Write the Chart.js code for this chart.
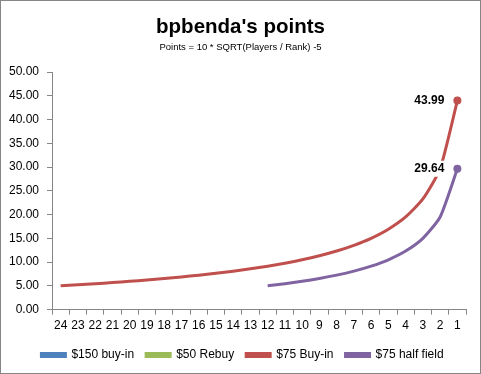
<!DOCTYPE html>
<html lang="en">
<head>
  <meta charset="UTF-8">
  <title>bpbenda's points</title>
  <script src="https://cdn.jsdelivr.net/npm/chart.js"></script>
  <style>
    body { margin: 0; background: #fff; }
    #wrap { width: 479px; height: 372px; border: 1px solid #868686; }
  </style>
  <script>
    // Data
    var ranks = ['24', '23', '22', '21', '20', '19', '18', '17', '16', '15', '14', '13',
                 '12', '11', '10', '9', '8', '7', '6', '5', '4', '3', '2', '1'];
    var buyIn150 = [];
    var rebuy50 = [];
    var buyIn75 = [5.00, 5.22, 5.44, 5.69, 5.95, 6.24, 6.55, 6.88, 7.25, 7.65, 8.09, 8.59,
                   9.14, 9.77, 10.49, 11.33, 12.32, 13.52, 15.00, 16.91, 19.49, 23.28, 29.64, 43.99];
    var halfField75 = [null, null, null, null, null, null, null, null, null, null, null, null,
                       5.00, 5.44, 5.95, 6.55, 7.25, 8.09, 9.14, 10.49, 12.32, 15.00, 19.49, 29.64];

    var font = 'Liberation Sans, Arial, sans-serif';

    function lastRadius(arr) {
      var r = [];
      for (var i = 0; i < arr.length; i++) r.push(i == arr.length - 1 ? 4 : 0);
      return r;
    }

    // label on the last point of the two drawn series
    var endLabels = {
      id: 'endLabels',
      afterDatasetsDraw: function(chart) {
        var ctx = chart.ctx;
        ctx.save();
        ctx.font = 'bold 12px ' + font;
        ctx.textAlign = 'right';
        ctx.textBaseline = 'middle';
        [2, 3].forEach(function(di) {
          var ds = chart.data.datasets[di];
          var meta = chart.getDatasetMeta(di);
          var i = ds.data.length - 1;
          var pt = meta.data[i];
          var txt = ds.data[i].toFixed(2);
          var w = ctx.measureText(txt).width;
          var x = pt.x - 13;
          ctx.fillStyle = '#fff';
          ctx.fillRect(x - w - 2, pt.y - 8, w + 4, 16);
          ctx.fillStyle = '#000';
          ctx.fillText(txt, x, pt.y);
        });
        ctx.restore();
      }
    };

    // center title, subtitle and legend on the whole canvas, not the padded area
    var centerBoxes = {
      id: 'centerBoxes',
      afterLayout: function(chart) {
        chart.boxes.forEach(function(b) {
          if (b.position == 'top' || b.position == 'bottom') {
            if (!b.axis) {
              var d = b.isHorizontal && b.options && b.options.labels ? 9 : 7;
              b.left += d;
              b.right += d;
            }
          }
        });
      }
    };

    document.addEventListener("DOMContentLoaded", function() {
      var ctx = document.getElementById('chart').getContext('2d');

      var chart = new Chart(ctx, {
        type: 'line',
        data: {
          labels: ranks,
          datasets: [
            { label: '$150 buy-in', data: buyIn150, borderColor: '#4F81BD', backgroundColor: '#4F81BD' },
            { label: '$50 Rebuy', data: rebuy50, borderColor: '#9BBB59', backgroundColor: '#9BBB59' },
            { label: '$75 Buy-in', data: buyIn75, borderColor: '#C0504D', backgroundColor: '#C0504D',
              pointRadius: lastRadius(buyIn75) },
            { label: '$75 half field', data: halfField75, borderColor: '#8064A2', backgroundColor: '#8064A2',
              pointRadius: lastRadius(halfField75) }
          ]
        },
        options: {
          responsive: false,
          animation: false,
          devicePixelRatio: 1,
          layout: { padding: { left: 0, right: 14, top: 4, bottom: 2 } },
          elements: {
            line: { borderWidth: 3, tension: 0.2 },
            point: { radius: 0, hoverRadius: 0, borderWidth: 0 }
          },
          plugins: {
            title: {
              display: true,
              text: "bpbenda's points",
              color: '#000',
              font: { family: font, size: 20.5, weight: 'bold' },
              padding: { top: 10, bottom: 2 }
            },
            subtitle: {
              display: true,
              text: 'Points = 10 * SQRT(Players / Rank) -5',
              color: '#000',
              font: { family: font, size: 9.5 },
              padding: { bottom: 19 }
            },
            legend: {
              position: 'bottom',
              labels: {
                color: '#000',
                font: { family: font, size: 12 },
                boxWidth: 24,
                boxHeight: 3,
                padding: 12
              }
            },
            tooltip: { enabled: false }
          },
          scales: {
            x: {
              offset: true,
              grid: { offset: true, drawOnChartArea: false, drawTicks: true, tickLength: 5, color: '#868686' },
              border: { display: true, color: '#868686' },
              ticks: { color: '#000', font: { family: font, size: 12 }, autoSkip: false, maxRotation: 0, padding: 4 }
            },
            y: {
              min: 0,
              max: 50,
              grid: { drawOnChartArea: false, drawTicks: true, tickLength: 5, color: '#868686' },
              border: { display: true, color: '#868686' },
              ticks: {
                stepSize: 5,
                color: '#000',
                font: { family: font, size: 12 },
                padding: 8,
                callback: function(v) { return v.toFixed(2); }
              }
            }
          }
        },
        plugins: [endLabels, centerBoxes]
      });
    });
  </script>
</head>
<body>
  <div id="wrap">
    <canvas id="chart" width="479" height="372"></canvas>
  </div>
</body>
</html>
